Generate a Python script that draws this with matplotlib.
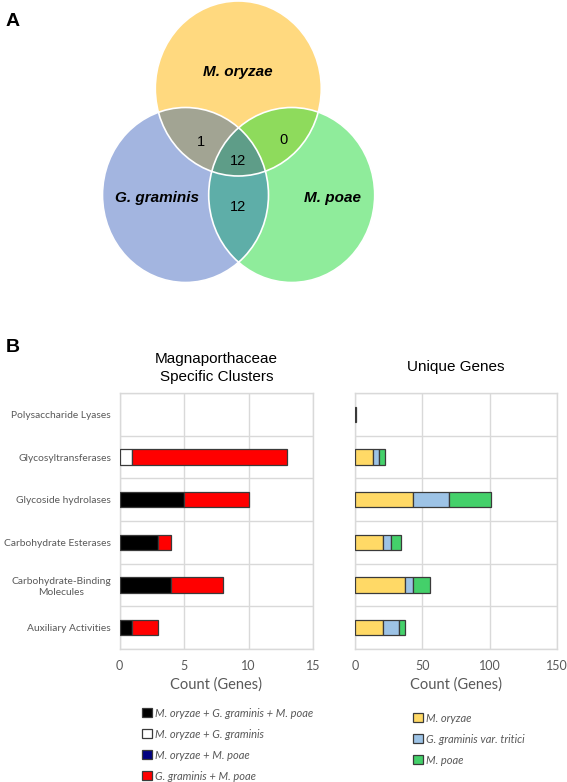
import numpy as np
import matplotlib
matplotlib.use('Agg')
import matplotlib.pyplot as plt
from matplotlib.patches import Ellipse, Polygon, Patch

# ---- data ----
venn_labels = ['M. oryzae', 'G. graminis', 'M. poae']
venn_counts = {'MO+GG': 1, 'MO+MP': 0, 'all': 12, 'GG+MP': 12}

categories = ['Polysaccharide Lyases', 'Glycosyltransferases', 'Glycoside hydrolases',
              'Carbohydrate Esterases', 'Carbohydrate-Binding\nMolecules', 'Auxiliary Activities']

# Magnaporthaceae specific clusters (gene counts)
shared_all = [0, 0, 5, 3, 4, 1]
mo_gg = [0, 1, 0, 0, 0, 0]
mo_mp = [0, 0, 0, 0, 0, 0]
gg_mp = [0, 12, 5, 1, 4, 2]
left_names = ['M. oryzae + G. graminis + M. poae', 'M. oryzae + G. graminis',
              'M. oryzae + M. poae', 'G. graminis + M. poae']
left_colors = ['#000000', '#FFFFFF', '#000080', '#FF0000']

# unique genes
uniq_mo = [1, 13, 43, 21, 37, 21]
uniq_gg = [0, 5, 27, 6, 6, 12]
uniq_mp = [0, 4, 31, 7, 13, 4]
right_names = ['M. oryzae', 'G. graminis var. tritici', 'M. poae']
right_colors = ['#FFD966', '#9DC3E6', '#44D06A']

W, H = 567, 782
fig = plt.figure(figsize=(W / 100, H / 100), dpi=100)


def px_axes(x0, y0, x1, y1):
    return fig.add_axes([x0 / W, 1 - y1 / H, (x1 - x0) / W, (y1 - y0) / H])


# ---- panel A: Venn ----
ax = px_axes(0, 0, W, 300)
ax.set_xlim(0, W)
ax.set_ylim(300, 0)
ax.axis('off')

ew, eh = 166, 175
centers = [(238.3, 88.5), (185.5, 195), (291.7, 195)]
base = ['#FFD97F', '#A3B5E0', '#8FEC9B']
for (cx, cy), c in zip(centers, base):
    ax.add_patch(Ellipse((cx, cy), ew, eh, facecolor=c, edgecolor='none'))


def ell(i, **kw):
    return Ellipse(centers[i], ew, eh, **kw)


def inside(x, y, i):
    cx, cy = centers[i]
    return ((x - cx) / (ew / 2)) ** 2 + ((y - cy) / (eh / 2)) ** 2 <= 1


def lens(i, j):
    t = np.linspace(0, 2 * np.pi, 720)
    pts = []
    for a, b in [(i, j), (j, i)]:
        cx, cy = centers[a]
        x = cx + ew / 2 * np.cos(t)
        y = cy + eh / 2 * np.sin(t)
        m = inside(x, y, b)
        pts.append(np.column_stack([x[m], y[m]]))
    pts = np.vstack(pts)
    c = pts.mean(axis=0)
    ang = np.arctan2(pts[:, 1] - c[1], pts[:, 0] - c[0])
    return pts[np.argsort(ang)]


pairs = [(0, 1, '#A2A493'), (0, 2, '#8EDB5C'), (1, 2, '#5EAEA8')]
for i, j, c in pairs:
    p = ell(j, facecolor=c, edgecolor='none')
    ax.add_patch(p)
    p.set_clip_path(ell(i, transform=ax.transData))
tri = Polygon(lens(0, 1), closed=True, facecolor='#5E9D88', edgecolor='none')
ax.add_patch(tri)
tri.set_clip_path(ell(2, transform=ax.transData))
for i in range(3):
    ax.add_patch(ell(i, facecolor='none', edgecolor='white', lw=1.2))

vfont = dict(family='Liberation Sans')
ax.text(238, 72, venn_labels[0], ha='center', va='center', fontsize=11,
        fontweight='bold', style='italic', **vfont)
ax.text(157, 198, venn_labels[1], ha='center', va='center', fontsize=11,
        fontweight='bold', style='italic', **vfont)
ax.text(333, 198, venn_labels[2], ha='center', va='center', fontsize=11,
        fontweight='bold', style='italic', **vfont)
ax.text(201, 142, str(venn_counts['MO+GG']), ha='center', va='center', fontsize=10.5, **vfont)
ax.text(284, 140, str(venn_counts['MO+MP']), ha='center', va='center', fontsize=10.5, **vfont)
ax.text(238, 161, str(venn_counts['all']), ha='center', va='center', fontsize=10.5, **vfont)
ax.text(238, 207, str(venn_counts['GG+MP']), ha='center', va='center', fontsize=10.5, **vfont)

fig.text(6 / W, 1 - 21 / H, 'A', fontsize=14, fontweight='bold', va='center', **vfont)
fig.text(6 / W, 1 - 348 / H, 'B', fontsize=14, fontweight='bold', va='center', **vfont)

# ---- panel B: stacked bars ----
y = np.arange(len(categories))
gray = '#595959'
gridc = '#D9D9D9'


def stacked(ax, series, colors, xmax, step):
    left = np.zeros(len(categories))
    for vals, c in zip(series, colors):
        vals = np.asarray(vals, dtype=float)
        m = vals > 0
        ax.barh(y[m], vals[m], left=left[m], height=0.36, color=c,
                edgecolor='#3A3A3A', linewidth=0.9, zorder=3)
        left += vals
    ax.set_xlim(0, xmax)
    ax.set_ylim(len(categories) - 0.5, -0.5)
    ax.set_xticks(np.arange(0, xmax + 1, step))
    ax.set_yticks(y)
    ax.set_yticks(np.arange(len(categories) + 1) - 0.5, minor=True)
    ax.grid(True, axis='x', color=gridc, lw=1, zorder=0)
    ax.grid(True, axis='y', which='minor', color=gridc, lw=1, zorder=0)
    ax.tick_params(which='both', length=0, colors=gray, labelsize=9)
    ax.tick_params(axis='x', pad=8)
    ax.tick_params(axis='y', pad=6)
    for s in ax.spines.values():
        s.set_color(gridc)
        s.set_linewidth(1)
    for lab in ax.get_xticklabels():
        lab.set_family('Lato')
    ax.set_xlabel('Count (Genes)', fontsize=10.5, color=gray, family='Lato', labelpad=4)


axL = px_axes(119.5, 393, 313, 649)
stacked(axL, [shared_all, mo_gg, mo_mp, gg_mp], left_colors, 15, 5)
axL.set_yticklabels(categories, family='Lato', fontsize=7.4, color=gray, ha='right',
                    multialignment='center', linespacing=1.35)
axL.set_title('Magnaporthaceae\nSpecific Clusters', fontsize=11, family='Liberation Sans',
              pad=9, linespacing=1.3)

axR = px_axes(355, 393, 557, 649)
stacked(axR, [uniq_mo, uniq_gg, uniq_mp], right_colors, 150, 50)
axR.set_yticklabels([])
axR.set_title('Unique Genes', fontsize=11, family='Liberation Sans', pad=16)

lfont = dict(family='Lato', style='italic', size=8)
hL = [Patch(facecolor=c, edgecolor='#3A3A3A', lw=0.9) for c in left_colors]
legL = fig.legend(hL, left_names, loc='upper left', bbox_to_anchor=(136 / W, 1 - 702 / H),
                  frameon=False, prop=lfont, handlelength=0.9, handleheight=0.9,
                  handletextpad=0.3, labelspacing=0.9, borderpad=0)
for t in legL.get_texts():
    t.set_color(gray)
hR = [Patch(facecolor=c, edgecolor='#3A3A3A', lw=0.9) for c in right_colors]
legR = fig.legend(hR, right_names, loc='upper left', bbox_to_anchor=(407 / W, 1 - 707 / H),
                  frameon=False, prop=lfont, handlelength=0.9, handleheight=0.9,
                  handletextpad=0.3, labelspacing=0.9, borderpad=0)
for t in legR.get_texts():
    t.set_color(gray)

fig.savefig('out.png', dpi=100)
